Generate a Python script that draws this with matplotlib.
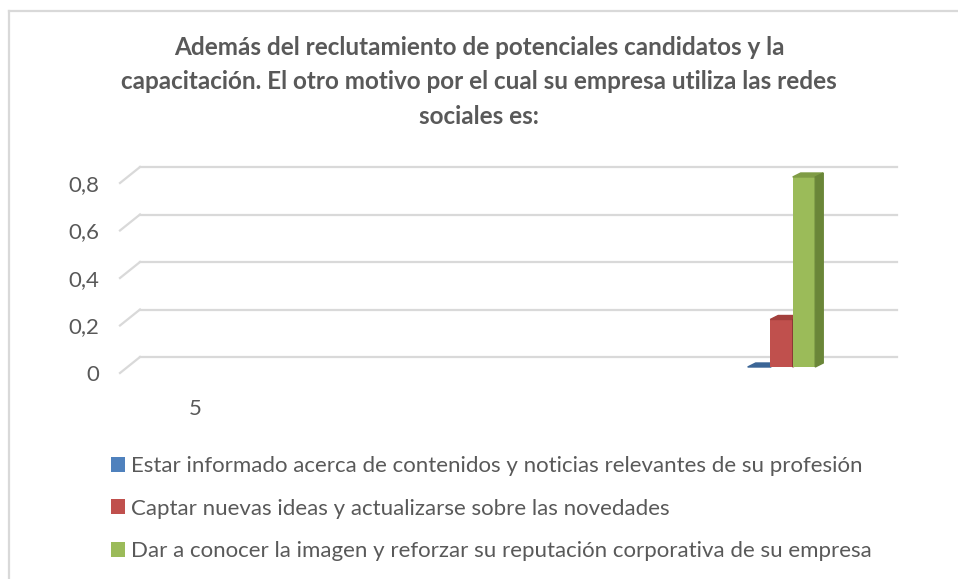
import matplotlib
matplotlib.use("Agg")
import matplotlib.pyplot as plt
from matplotlib import transforms
from matplotlib.patches import Polygon, Patch
from matplotlib.lines import Line2D

plt.rcParams['font.family'] = ['Lato', 'DejaVu Sans']

title = ("Además del reclutamiento de potenciales candidatos y la\n"
         "capacitación. El otro motivo por el cual su empresa utiliza las redes\n"
         "sociales es:")
categories = ["5", ""]
series_names = [
    "Estar informado acerca de contenidos y noticias relevantes de su profesión",
    "Captar nuevas ideas y actualizarse sobre las novedades",
    "Dar a conocer la imagen y reforzar su reputación corporativa de su empresa",
]
values = [
    [0, 0],
    [0, 0.2],
    [0, 0.8],
]
yticks = [0, 0.2, 0.4, 0.6, 0.8]
ytick_labels = ["0", "0,2", "0,4", "0,6", "0,8"]

front_colors = ["#4F81BD", "#C0504D", "#9BBB59"]
top_colors = ["#3B6596", "#A23F3C", "#7F9C45"]
side_colors = ["#385D8A", "#8C3836", "#6A8638"]
text_color = "#595959"
grid_color = "#D9D9D9"

W, H = 958, 579
fig = plt.figure(figsize=(W / 100, H / 100), dpi=100)

# back wall of the plot area
left, right, bottom, top = 140, 897, 357, 167
ax = fig.add_axes([left / W, 1 - bottom / H, (right - left) / W, (bottom - top) / H])
ax.set_xlim(-0.1295, 1.178)
ax.set_ylim(0, 0.8)
for s in ax.spines.values():
    s.set_visible(False)
ax.set_facecolor("none")

for t in yticks:
    ax.axhline(t, color=grid_color, lw=1.6, zorder=1, clip_on=False)

# diagonal side wall lines (front plane is 20 px left, 16 px down)
for t in yticks:
    p1 = ax.transData.transform((ax.get_xlim()[0], t))
    fig.add_artist(Line2D([p1[0] - 20, p1[0]], [p1[1] - 16, p1[1]], color=grid_color,
                          lw=1.6, transform=transforms.IdentityTransform()))

ax.set_yticks(yticks)
ax.set_yticklabels(ytick_labels)
ax.set_xticks(range(len(categories)))
ax.set_xticklabels(categories)
ax.tick_params(length=0, labelsize=16, labelcolor=text_color)
ax.tick_params(axis='y', pad=15)
ax.tick_params(axis='x', pad=19)
shift = transforms.ScaledTranslation(-20 / 100, -16 / 100, fig.dpi_scale_trans)
for lab in ax.get_yticklabels() + ax.get_xticklabels():
    lab.set_transform(lab.get_transform() + shift)

# 3D-ish clustered bars
bar_w = 0.0389
dx, dy = 8 / 579, 4 / 237.5
bars_tr = transforms.offset_copy(ax.transData, fig, x=-12.5, y=-10, units='dots')
for i, vals in enumerate(values):
    for c, v in enumerate(vals):
        if c == 0:
            continue
        x0 = c + (i - 1) * bar_w - bar_w / 2
        x1 = x0 + bar_w
        ax.bar(x0, v, width=bar_w, align='edge', color=front_colors[i],
               transform=bars_tr, zorder=3 + i, clip_on=False)
        ax.add_patch(Polygon([(x0, v), (x1, v), (x1 + dx, v + dy), (x0 + dx, v + dy)],
                             closed=True, color=top_colors[i], transform=bars_tr,
                             zorder=3 + i, clip_on=False))
        ax.add_patch(Polygon([(x1, 0), (x1, v), (x1 + dx, v + dy), (x1 + dx, dy)],
                             closed=True, color=side_colors[i], transform=bars_tr,
                             zorder=3 + i, clip_on=False))

fig.suptitle(title, x=0.5, y=1 - 36 / H, fontsize=17.5, fontweight='bold',
             color=text_color, linespacing=1.6, va='top')

handles = [Patch(facecolor=c, edgecolor='none') for c in front_colors]
fig.legend(handles, series_names, loc='upper left', bbox_to_anchor=(102 / W, 1 - 447 / H),
           frameon=False, fontsize=16, labelcolor=text_color, handlelength=0.65,
           handleheight=0.65, handletextpad=0.27, labelspacing=1.02, borderaxespad=0)

# chart frame
fig.add_artist(Line2D([9 / W, 1], [1 - 11 / H, 1 - 11 / H], color=grid_color, lw=1.6))
fig.add_artist(Line2D([9 / W, 9 / W], [0, 1 - 11 / H], color=grid_color, lw=1.6))

fig.savefig("out.png", dpi=100)
